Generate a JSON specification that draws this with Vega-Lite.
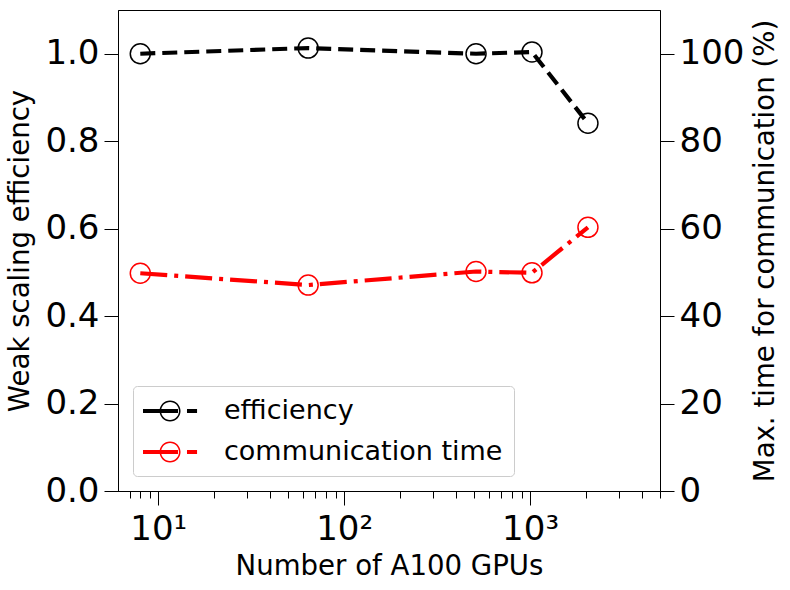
{
  "$schema": "https://vega.github.io/schema/vega-lite/v6.json",
  "width": 542,
  "height": 481,
  "autosize": "none",
  "padding": {"left": 118, "top": 10, "right": 130, "bottom": 99},
  "background": "white",
  "config": {
    "font": "DejaVu Sans",
    "view": {"stroke": "black", "strokeWidth": 1},
    "axis": {
      "grid": false,
      "domainColor": "black",
      "domainWidth": 1,
      "tickColor": "black",
      "tickWidth": 1,
      "labelColor": "black",
      "titleColor": "black",
      "labelFont": "DejaVu Sans",
      "titleFont": "DejaVu Sans",
      "titleFontWeight": "normal",
      "labelFlush": false,
      "labelOverlap": false
    }
  },
  "data": {
    "values": [
      {"gpus": 8, "efficiency": 1.0, "comm": 49.8},
      {"gpus": 64, "efficiency": 1.013, "comm": 47.1},
      {"gpus": 512, "efficiency": 1.0, "comm": 50.2},
      {"gpus": 1024, "efficiency": 1.004, "comm": 49.9},
      {"gpus": 2048, "efficiency": 0.841, "comm": 60.3}
    ]
  },
  "layer": [
    {
      "encoding": {
        "x": {
          "field": "gpus",
          "type": "quantitative",
          "scale": {"type": "log", "domain": [6.07, 5000], "nice": false},
          "axis": {
            "orient": "bottom",
            "values": [10, 100, 1000],
            "labelExpr": "datum.value == 10 ? '10¹' : datum.value == 100 ? '10²' : '10³'",
            "labelFontSize": 34,
            "tickSize": 14,
            "labelPadding": 7,
            "title": "Number of A100 GPUs",
            "titleFontSize": 27.6,
            "titlePadding": 6
          }
        },
        "y": {
          "field": "efficiency",
          "type": "quantitative",
          "scale": {"domain": [0, 1.1], "nice": false, "zero": false},
          "axis": {
            "orient": "left",
            "values": [0, 0.2, 0.4, 0.6, 0.8, 1.0],
            "format": ".1f",
            "labelFontSize": 34,
            "tickSize": 14,
            "labelPadding": 5,
            "title": "Weak scaling efficiency",
            "titleFontSize": 27.6,
            "titlePadding": 10
          }
        }
      },
      "layer": [
        {
          "mark": {"type": "line", "strokeDash": [15, 7], "strokeWidth": 4.2},
          "encoding": {
            "color": {
              "datum": "efficiency",
              "type": "nominal",
              "scale": {"domain": ["efficiency", "communication time"], "range": ["black", "red"]},
              "legend": {
                "title": null,
                "orient": "bottom-left",
                "offset": 15,
                "padding": 11,
                "rowPadding": 14,
                "fillColor": "white",
                "strokeColor": "#cccccc",
                "cornerRadius": 4,
                "labelFont": "DejaVu Sans",
                "labelFontSize": 27,
                "labelColor": "black",
                "labelLimit": 500,
                "labelOffset": 52,
                "symbolSize": 784,
                "symbolStrokeWidth": 0,
                "symbolType": "M-1.07,-0.15H1.43V0.15H-1.07Z M2.07,-0.15H2.79V0.15H2.07Z M1.61,0A0.75,0.75,0,1,1,0.11,0A0.75,0.75,0,1,1,1.61,0Z M1.5,0A0.64,0.64,0,1,0,0.22,0A0.64,0.64,0,1,0,1.5,0Z",
                "encode": {"symbols": {"update": {"fill": {"scale": "color", "field": "value"}, "strokeWidth": {"value": 0}, "opacity": {"value": 1}}}}
              }
            }
          }
        },
        {
          "mark": {"type": "point", "shape": "circle", "filled": false, "size": 400, "strokeWidth": 1.5, "color": "black", "opacity": 1}
        }
      ]
    },
    {
      "encoding": {
        "x": {
          "field": "gpus",
          "type": "quantitative",
          "scale": {"type": "log", "domain": [6.07, 5000], "nice": false},
          "axis": {
            "orient": "bottom",
            "values": [7, 8, 9, 20, 30, 40, 50, 60, 70, 80, 90, 200, 300, 400, 500, 600, 700, 800, 900, 2000, 3000, 4000, 5000],
            "labels": false,
            "domain": false,
            "tickSize": 7,
            "title": null
          }
        },
        "y": {
          "field": "comm",
          "type": "quantitative",
          "scale": {"domain": [0, 110], "nice": false, "zero": false},
          "axis": {
            "orient": "right",
            "values": [0, 20, 40, 60, 80, 100],
            "labelFontSize": 34,
            "tickSize": 14,
            "labelPadding": 5,
            "title": "Max. time for communication (%)",
            "titleFontSize": 27.6,
            "titleAngle": 270,
            "titleBaseline": "top",
            "titlePadding": 8
          }
        }
      },
      "layer": [
        {
          "mark": {"type": "line", "strokeDash": [27, 7, 4, 7], "strokeWidth": 4.2},
          "encoding": {
            "color": {
              "datum": "communication time",
              "type": "nominal"
            }
          }
        },
        {
          "mark": {"type": "point", "shape": "circle", "filled": false, "size": 400, "strokeWidth": 1.5, "color": "red", "opacity": 1}
        }
      ]
    }
  ],
  "resolve": {"scale": {"y": "independent"}, "axis": {"x": "independent"}}
}
